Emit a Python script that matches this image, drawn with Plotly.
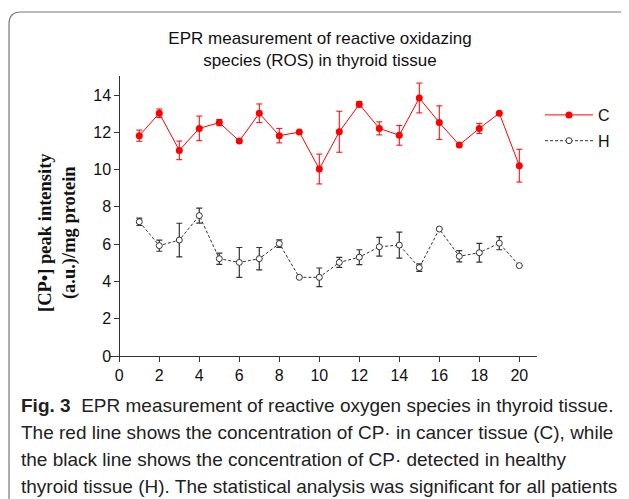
import plotly.graph_objects as go

x_vals = list(range(1, 21))
c_vals = [11.82, 13.02, 11.03, 12.21, 12.52, 11.53, 13.02, 11.82, 12.01, 10.03,
          12.03, 13.5, 12.21, 11.84, 13.84, 12.52, 11.32, 12.21, 13.02, 10.21]
c_err = [0.3, 0.23, 0.5, 0.66, 0.17, 0.0, 0.5, 0.39, 0.0, 0.8,
         1.1, 0.15, 0.35, 0.53, 0.8, 0.9, 0.0, 0.27, 0.0, 0.88]
h_vals = [7.2, 5.92, 6.22, 7.53, 5.22, 5.02, 5.22, 6.03, 4.22, 4.22,
          5.02, 5.3, 5.86, 5.95, 4.74, 6.81, 5.35, 5.54, 6.05, 4.85]
h_err = [0.2, 0.3, 0.9, 0.4, 0.3, 0.8, 0.6, 0.2, 0.0, 0.5,
         0.27, 0.4, 0.5, 0.7, 0.2, 0.0, 0.3, 0.5, 0.35, 0.0]
x_ticks = list(range(0, 21, 2))
y_ticks = list(range(0, 15, 2))

title_text = "EPR measurement of reactive oxidazing<br>species (ROS) in thyroid tissue"
ytitle_text = "<b>[CP•] peak intensity<br>(a.u.)/mg protein</b>"
caption_lines = [
    "<b>Fig. 3</b>  EPR measurement of reactive oxygen species in thyroid tissue.",
    "The red line shows the concentration of CP· in cancer tissue (C), while",
    "the black line shows the concentration of CP· detected in healthy",
    "thyroid tissue (H). The statistical analysis was significant for all patients",
]

# page places the figure at an 8px body margin
OFF = 8
W, H = 629 - OFF, 499 - OFF
# plot area in window pixels
PL, PR, PT, PB = 110, 537, 76, 356
L, R, T, B = PL - OFF, W - (PR - OFF), PT - OFF, H - (PB - OFF)
pw, ph = W - L - R, H - T - B


def px(x):
    return (x - OFF - L) / pw


def py(y):
    return (H - B - (y - OFF)) / ph


fig = go.Figure()
fig.add_trace(go.Scatter(
    x=x_vals, y=c_vals, name="C", legendgroup="c", mode="lines+markers",
    line=dict(color="#ff0000", width=1),
    marker=dict(color="#ff0000", size=7, symbol="circle"),
    error_y=dict(type="data", array=c_err, visible=True, color="#ff0000", thickness=1, width=3),
))
fig.add_trace(go.Scatter(
    x=x_vals, y=h_vals, name="H", legendgroup="h", mode="lines+markers",
    line=dict(color="#333333", width=1, dash="3px,2px"),
    marker=dict(color="white", size=6, symbol="circle", line=dict(color="#333333", width=1)),
    error_y=dict(type="data", array=h_err, visible=True, color="#333333", thickness=1.2, width=3),
))

xr = [-0.465, 20.885]
fig.update_layout(
    width=W, height=H,
    margin=dict(l=L, r=R, t=T, b=B, autoexpand=False),
    paper_bgcolor="white", plot_bgcolor="white",
    font=dict(family="Liberation Sans, Arial, sans-serif", color="#111111"),
    title=dict(text=title_text, x=(320 - OFF) / W, xanchor="center", y=1 - (44 - OFF) / H,
               yanchor="middle",
               font=dict(size=17, family="Liberation Sans, Arial, sans-serif", color="#111111")),
    xaxis=dict(range=xr, tickvals=x_ticks, ticks="outside", ticklen=5, tickcolor="#333",
               showline=True, linecolor="#333", linewidth=1, showgrid=False, zeroline=False,
               tickfont=dict(size=16, family="Liberation Sans, Arial, sans-serif")),
    yaxis=dict(range=[0, 15.02], tickvals=y_ticks, ticks="outside", ticklen=5, tickcolor="#333",
               showline=True, linecolor="#333", linewidth=1, showgrid=False, zeroline=False,
               anchor="free", position=(0 - xr[0]) / (xr[1] - xr[0]),
               tickfont=dict(size=16, family="Liberation Sans, Arial, sans-serif")),
    showlegend=True,
    legend=dict(x=px(540), y=py(98), xanchor="left", yanchor="top",
                font=dict(size=16, family="Liberation Sans, Arial, sans-serif"),
                bgcolor="rgba(0,0,0,0)", tracegroupgap=2, itemwidth=48),
)

# y-axis title
fig.add_annotation(text=ytitle_text, xref="paper", yref="paper", x=px(57), y=py(233),
                   xanchor="center", yanchor="middle", textangle=-90, showarrow=False,
                   font=dict(size=18.5, family="Liberation Serif, Times New Roman, serif", color="#111"))

# caption
cap_y = [405, 432, 459, 486]
for txt, yy in zip(caption_lines, cap_y):
    fig.add_annotation(text=txt, xref="paper", yref="paper", x=px(19), y=py(yy),
                       xanchor="left", yanchor="middle", showarrow=False, align="left",
                       font=dict(size=19, family="Liberation Sans Narrow, Arial Narrow, sans-serif",
                                 color="#222"))

# rounded frame
path = (f"M {px(9)},{py(520)} L {px(9)},{py(24)} Q {px(9)},{py(12)} {px(21)},{py(12)} "
        f"L {px(650)},{py(12)}")
fig.add_shape(type="path", path=path, xref="paper", yref="paper",
              line=dict(color="#777777", width=1.2), layer="below")

fig.write_html("out.html")
